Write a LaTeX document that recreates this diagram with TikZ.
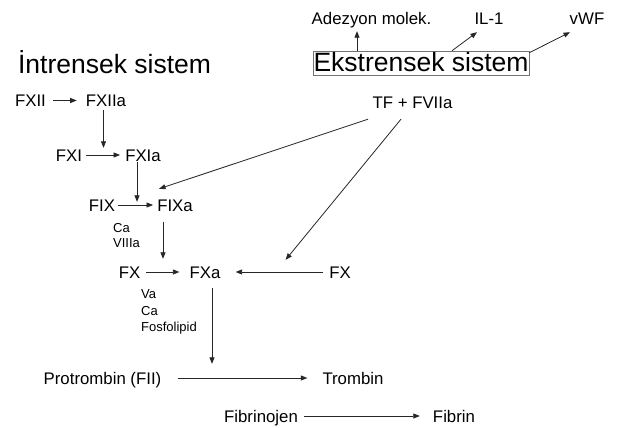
\documentclass[tikz,border=0pt]{standalone}
\usepackage{fontspec}
\setmainfont{Liberation Sans}
\usetikzlibrary{arrows.meta}

\tikzset{
  lbl/.style={inner sep=0pt, font=\fontsize{16.8}{18}\selectfont, text height=12pt, text depth=0pt},
  sml/.style={inner sep=0pt, anchor=west, font=\fontsize{13}{14}\selectfont, text height=9.3pt, text depth=0pt},
  ttl/.style={inner sep=0pt, font=\fontsize{26.5}{30}\selectfont, text height=19pt, text depth=0pt},
  arr/.style={draw=black!85, line width=0.8pt, -{Triangle[length=6.5pt,width=5pt]}}
}

\begin{document}
\begin{tikzpicture}[x=1pt, y=-1pt]
  \useasboundingbox (0,0) rectangle (619,428);

  % titles
  \node[ttl] (intr) at (114.5,64) {İntrensek sistem};
  \node[ttl, draw=black!55, line width=0.5pt, inner xsep=0.5pt, inner ysep=1.5pt, text depth=2pt] (ekst) at (421,63) {Ekstrensek sistem};

  % extrinsic side effects
  \node[lbl] (adez) at (371.5,19) {Adezyon molek.};
  \node[lbl] (il1)  at (489,19) {IL-1};
  \node[lbl] (vwf)  at (587,19) {vWF};
  \draw[arr] ([xshift=-64pt]ekst.north) -- ([xshift=-14.5pt,yshift=-6pt]adez.south);
  \draw[arr] ([xshift=31pt]ekst.north) -- ([xshift=-12pt,yshift=-7pt]il1.south);
  \draw[arr] ([yshift=-2pt]ekst.north east) -- ([xshift=-17pt,yshift=-7pt]vwf.south);

  % intrinsic cascade
  \node[lbl] (fxii)  at (30.5,100.5) {FXII};
  \node[lbl] (fxiia) at (106,100.5) {FXIIa};
  \node[lbl] (fxi)   at (69,155) {FXI};
  \node[lbl] (fxia)  at (143,155) {FXIa};
  \node[lbl] (fix)   at (102,205) {FIX};
  \node[lbl] (fixa)  at (175,205) {FIXa};
  \node[sml] (ca1)   at (113,228) {Ca};
  \node[sml] (viiia) at (113,243) {VIIIa};
  \node[lbl] (fx)    at (129.5,272) {FX};
  \node[lbl] (fxa)   at (205,272) {FXa};
  \node[lbl] (fxr)   at (340,272) {FX};
  \node[sml] (va)    at (141,294) {Va};
  \node[sml] (ca2)   at (141,311) {Ca};
  \node[sml] (fosf)  at (141,327) {Fosfolipid};
  \node[lbl] (tf)    at (412.5,102) {TF + FVIIa};

  % common pathway
  \node[lbl] (prot)  at (102.5,378) {Protrombin (FII)};
  \node[lbl] (tromb) at (353,378) {Trombin};
  \node[lbl] (fibj)  at (261,416) {Fibrinojen};
  \node[lbl] (fibr)  at (454,416) {Fibrin};

  % connectors
  \draw[arr] ([xshift=7pt]fxii.east) -- ([xshift=-9pt]fxiia.west);
  \draw[arr] ([xshift=-2.5pt,yshift=-3.5pt]fxiia.south) -- ([xshift=-2.5pt,yshift=1pt]fxiia.south |- fxia.north);
  \draw[arr] ([xshift=4pt]fxi.east) -- ([xshift=-5pt]fxia.west);
  \draw[arr] ([xshift=-6pt,yshift=-1pt]fxia.south) -- ([xshift=-6pt,yshift=-3pt]fxia.south |- fixa.north);
  \draw[arr] ([xshift=3pt]fix.east) -- ([xshift=-4pt]fixa.west);
  \draw[arr] ([xshift=-12pt,yshift=-11pt]fixa.south) -- ([xshift=-12pt,yshift=7pt]fixa.south |- fxa.north);
  \draw[arr] ([xshift=6pt]fx.east) -- ([xshift=-10pt]fxa.west);
  \draw[arr] ([xshift=-6pt]fxr.west) -- ([xshift=15pt]fxa.east);
  \draw[arr] ([xshift=-44.5pt,yshift=-11pt]tf.south) -- ([xshift=2pt,yshift=10pt]fixa.north west);
  \draw[arr] ([xshift=-11.5pt,yshift=-11pt]tf.south) -- ([xshift=65pt,yshift=6pt]fxa.north east);
  \draw[arr] ([xshift=7pt,yshift=-10pt]fxa.south) -- ([xshift=7pt,yshift=8pt]fxa.south |- prot.north);
  \draw[arr] ([xshift=16pt]prot.east) -- ([xshift=-15pt]tromb.west);
  \draw[arr] ([xshift=6pt]fibj.east) -- ([xshift=-13pt]fibr.west);
\end{tikzpicture}
\end{document}
